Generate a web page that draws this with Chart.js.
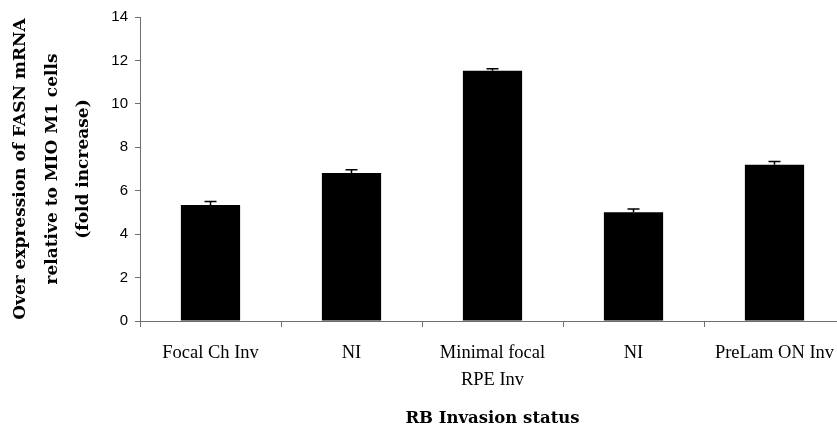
<!DOCTYPE html>
<html>
<head>
<meta charset="utf-8">
<script src="https://cdn.jsdelivr.net/npm/chart.js@4/dist/chart.umd.min.js"></script>
<style>
  html, body { margin: 0; padding: 0; background: #fff; overflow: hidden; }
  #wrap { width: 860px; height: 428px; }
</style>
</head>
<body>
<div id="wrap"><canvas id="c" width="860" height="428"></canvas></div>
<script>
// RB invasion groups (multi-line labels are arrays)
const categories = [
  'Focal Ch Inv',
  'NI',
  ['Minimal focal', 'RPE Inv'],
  'NI',
  'PreLam ON Inv'
];
// FASN mRNA fold increase relative to MIO M1 cells
const foldIncrease = [5.34, 6.82, 11.52, 5.01, 7.19];
// Upper error (standard deviation)
const errorUp = [0.16, 0.15, 0.10, 0.15, 0.15];
const yTicks = [0, 2, 4, 6, 8, 10, 12, 14];

const axisColor = '#6e6e6e';

// Draws the upward error whiskers with caps on top of every bar
const errorBars = {
  id: 'errorBars',
  afterDatasetsDraw(chart) {
    const meta = chart.getDatasetMeta(0);
    const yScale = chart.scales.y;
    const ctx = chart.ctx;
    ctx.save();
    ctx.strokeStyle = '#000';
    ctx.lineWidth = 1.5;
    meta.data.forEach((bar, i) => {
      const x = bar.x;
      const yTop = yScale.getPixelForValue(foldIncrease[i] + errorUp[i]);
      const yVal = yScale.getPixelForValue(foldIncrease[i]);
      ctx.beginPath();
      ctx.moveTo(x, yVal);
      ctx.lineTo(x, yTop);
      ctx.moveTo(x - 6, yTop);
      ctx.lineTo(x + 6, yTop);
      ctx.stroke();
    });
    ctx.restore();
  }
};

new Chart(document.getElementById('c'), {
  type: 'bar',
  data: {
    labels: categories,
    datasets: [{
      data: foldIncrease,
      backgroundColor: '#000',
      borderColor: '#000',
      borderWidth: 0,
      barPercentage: 0.42,
      categoryPercentage: 1.0
    }]
  },
  options: {
    responsive: false,
    animation: false,
    events: [],
    layout: { padding: { top: 17, right: 15, left: 0, bottom: 0 } },
    plugins: {
      legend: { display: false },
      tooltip: { enabled: false },
      title: { display: false }
    },
    scales: {
      x: {
        offset: true,
        grid: {
          display: true,
          offset: true,
          drawOnChartArea: false,
          tickLength: 6,
          color: axisColor
        },
        border: { display: true, color: axisColor, width: 1 },
        ticks: {
          color: '#000',
          padding: 12,
          maxRotation: 0,
          autoSkip: false,
          font: { family: '"Liberation Serif", "Times New Roman", serif', size: 18.5, lineHeight: 1.48 }
        },
        title: {
          display: true,
          text: 'RB Invasion status',
          color: '#000',
          padding: { top: 0, bottom: 0 },
          font: { family: '"DejaVu Serif", serif', size: 16.5, weight: 'bold', lineHeight: 1.1 }
        },
        afterFit(scale) { scale.height = 107; }
      },
      y: {
        min: 0,
        max: 14,
        afterBuildTicks(scale) { scale.ticks = yTicks.map(v => ({ value: v })); },
        grid: {
          display: true,
          drawOnChartArea: false,
          tickLength: 5,
          color: axisColor
        },
        border: { display: true, color: axisColor, width: 1 },
        ticks: {
          color: '#000',
          padding: 7,
          font: { family: '"Liberation Sans", Arial, sans-serif', size: 15 }
        },
        title: {
          display: true,
          text: ['Over expression of FASN mRNA', 'relative to MIO M1 cells', '(fold increase)'],
          color: '#000',
          padding: { top: 5, bottom: 0 },
          font: { family: '"DejaVu Serif", serif', size: 17, weight: 'bold', lineHeight: 1.85 }
        },
        afterFit(scale) { scale.width = 140; }
      }
    }
  },
  plugins: [errorBars]
});
</script>
</body>
</html>
